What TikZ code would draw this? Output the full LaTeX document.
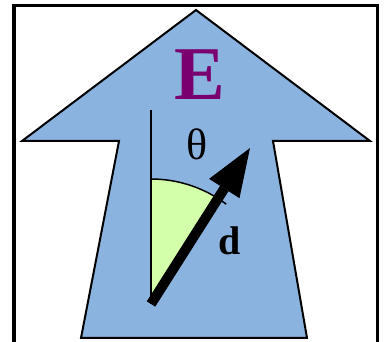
\documentclass[tikz,border=0pt]{standalone}
\usepackage{fontspec}
\setmainfont{Liberation Serif}
\usetikzlibrary{arrows.meta}
\definecolor{fieldblue}{RGB}{138,179,224}
\definecolor{fieldpurple}{RGB}{122,0,112}
\definecolor{anglegreen}{RGB}{212,255,170}
\tikzset{>=latex}
\tikzset{dipole/.style={line width=10pt,
    -{Triangle[length=48pt, width=36pt, line width=0pt]}}}
\tikzset{bigtext/.style={inner sep=0pt, font=\fontsize{#1}{#1}\selectfont}}
\tikzset{bigbold/.style={inner sep=0pt, font=\fontsize{#1}{#1}\selectfont\bfseries}}

\begin{document}
\begin{tikzpicture}[x=1pt, y=1pt]
                \useasboundingbox (0,0) rectangle (385,342);%
                \draw [line width=3.3pt] (14,0) -- (14,336.5) -- (377.7,336.5) -- (377.7,0);%
                % the field arrow
                \draw [line width=2pt, fill=fieldblue] (196,332) -- (370,201) -- (273,201) -- (307,4) -- (81,4) -- (119,201) -- (22,201) -- cycle;%
                \coordinate (o) at (151,38);%
                \coordinate (dtip) at (250,194);%
                \coordinate (axis) at (151,232);%
                \fill [anglegreen] (o) -- ++(90:125) arc (90:57.6:125) -- cycle;%
                \draw [line width=1.5pt] (o) ++(90:125) arc (90:53:125);%
                \draw [line width=1.5pt] (o) -- (axis);%
                \draw [dipole] (o) -- (dtip);%
                \node [bigbold=76, text=fieldpurple] (E) at (200,267) {E};%
                \node [bigtext=44] (theta) at (197,198) {θ};%
                \node [bigbold=40] (d) at (230,101) {d};%
              \end{tikzpicture}
\end{document}
